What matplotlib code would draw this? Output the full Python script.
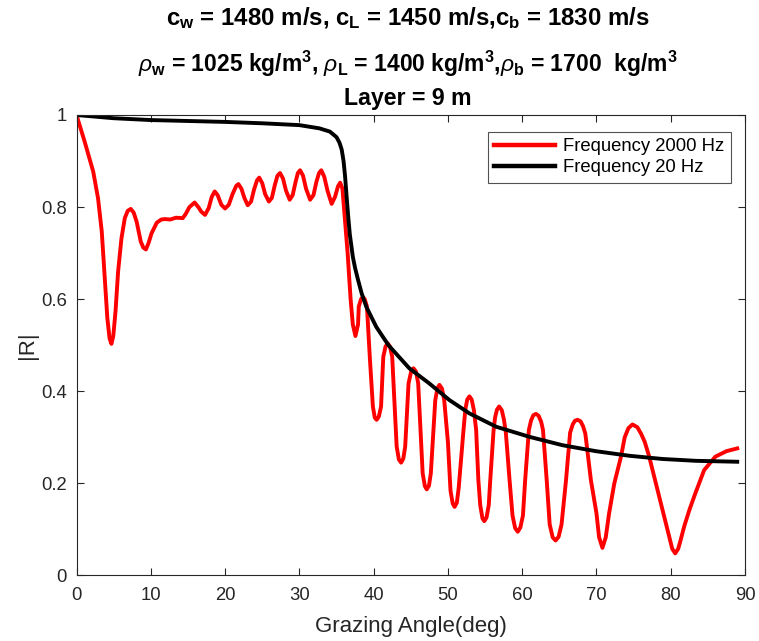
import numpy as np
import matplotlib
matplotlib.use("Agg")
import matplotlib.pyplot as plt

# values
# 2000 Hz curve: grazing angle (deg), |R|
angle_2000 = [0.0, 1.1, 2.25, 2.9, 3.4, 3.75, 4.15, 4.45, 4.7, 4.95, 5.25, 5.6, 6.05, 6.5, 6.9, 7.3,
              7.7, 8.1, 8.65, 9.0, 9.35, 9.7, 10.1, 10.8, 11.4, 11.9, 12.6, 13.4, 14.3, 14.7, 15.2,
              15.9, 16.4, 16.8, 17.3, 17.8, 18.2, 18.6, 19.0, 19.5, 20.0, 20.5, 21.0, 21.5, 21.8,
              22.2, 22.6, 23.05, 23.5, 23.9, 24.3, 24.6, 25.0, 25.4, 25.9, 26.3, 26.7, 27.05, 27.4,
              27.8, 28.2, 28.7, 29.1, 29.5, 29.8, 30.1, 30.5, 30.9, 31.45, 31.9, 32.3, 32.65, 32.95,
              33.35, 33.8, 34.35, 34.8, 35.2, 35.5, 35.8, 36.2, 36.5, 36.9, 37.2, 37.55, 37.9,
              38.0, 38.3, 38.55, 38.8, 39.1, 39.5, 39.9, 40.15, 40.4, 40.7, 41.0,
              41.3, 41.6, 41.9, 42.2, 42.5, 42.85, 43.1, 43.4, 43.7, 44.0, 44.25,
              44.7, 45.05, 45.36, 45.7, 46.0, 46.6, 46.9, 47.15, 47.45, 47.7,
              48.3, 48.6, 48.86, 49.2, 49.5, 50.0, 50.35, 50.65, 50.9, 51.2, 51.45,
              52.1, 52.35, 52.6, 52.9, 53.2, 53.5, 53.8, 54.1, 54.35, 54.65, 54.9, 55.2, 55.5, 55.7,
              56.15, 56.35, 56.6, 56.9, 57.25, 57.55, 57.8, 58.3, 58.7, 59.05, 59.4, 59.75, 60.1,
              60.4, 60.9, 61.2, 61.5, 61.85, 62.2, 62.55, 62.8, 63.3, 63.7, 64.1, 64.5, 64.9, 65.3,
              65.9, 66.45, 66.8, 67.1, 67.45, 67.85, 68.2, 68.5, 69.25, 70.0, 70.35, 70.8, 71.25,
              71.7, 72.4, 73.3, 73.8, 74.3, 74.85, 75.5, 76.0, 76.5, 77.1, 78.0, 78.9, 79.8, 80.2,
              80.6, 81.0, 81.3, 81.8, 82.5, 83.3, 84.5, 86.0, 87.5, 88.95]
R_2000 = [1.000, 0.942, 0.877, 0.819, 0.747, 0.660, 0.559, 0.515, 0.503, 0.520, 0.573, 0.660, 0.732,
          0.776, 0.792, 0.796, 0.788, 0.768, 0.725, 0.712, 0.708, 0.722, 0.743, 0.766, 0.773, 0.774,
          0.773, 0.777, 0.776, 0.785, 0.800, 0.810, 0.800, 0.790, 0.783, 0.798, 0.822, 0.834, 0.826,
          0.805, 0.797, 0.805, 0.828, 0.846, 0.850, 0.840, 0.820, 0.804, 0.812, 0.838, 0.858, 0.864,
          0.852, 0.828, 0.812, 0.820, 0.848, 0.868, 0.874, 0.862, 0.836, 0.816, 0.826, 0.855, 0.874,
          0.880, 0.868, 0.840, 0.816, 0.826, 0.855, 0.874, 0.880, 0.866, 0.835, 0.807, 0.822, 0.845,
          0.853, 0.840, 0.761, 0.700, 0.600, 0.545, 0.520, 0.545,
          0.584, 0.600, 0.605, 0.600, 0.584, 0.470, 0.367, 0.343, 0.338, 0.345, 0.367,
          0.475, 0.497, 0.504, 0.497, 0.475, 0.360, 0.280, 0.252, 0.245, 0.254, 0.280,
          0.417, 0.443, 0.450, 0.443, 0.417, 0.222, 0.194, 0.187, 0.195, 0.222,
          0.381, 0.407, 0.414, 0.406, 0.381, 0.290, 0.184, 0.156, 0.149, 0.158, 0.190,
          0.316, 0.361, 0.382, 0.389, 0.382, 0.359, 0.316, 0.207, 0.153, 0.124, 0.118, 0.126, 0.153,
          0.207, 0.316, 0.343, 0.360, 0.367, 0.359, 0.338, 0.310, 0.207, 0.130, 0.103, 0.095, 0.104,
          0.130, 0.207, 0.316, 0.337, 0.348, 0.351, 0.347, 0.334, 0.316, 0.207, 0.111, 0.083, 0.076,
          0.084, 0.111, 0.207, 0.310, 0.328, 0.336, 0.338, 0.335, 0.324, 0.308, 0.207, 0.135, 0.083,
          0.060, 0.083, 0.135, 0.200, 0.258, 0.300, 0.320, 0.328, 0.322, 0.308, 0.290, 0.258, 0.200,
          0.142, 0.084, 0.058, 0.048, 0.058, 0.075, 0.106, 0.142, 0.178, 0.229, 0.258, 0.270, 0.276]

# 20 Hz curve
angle_20 = [0.0, 5.0, 10.0, 15.0, 20.0, 25.0, 30.0, 32.7, 34.1, 35.0, 35.4, 35.7, 35.95, 36.15,
            36.4, 36.6, 36.8, 37.2, 37.5, 37.9, 38.4, 39.0, 40.35, 42.0, 44.8, 47.5, 50.2, 52.9,
            56.5, 61.0, 65.4, 69.9, 74.4, 78.9, 83.4, 88.95]
R_20 = [1.000, 0.993, 0.989, 0.987, 0.985, 0.982, 0.978, 0.971, 0.964, 0.952, 0.940, 0.925, 0.900,
        0.868, 0.815, 0.775, 0.740, 0.692, 0.668, 0.642, 0.612, 0.584, 0.540, 0.500, 0.450, 0.417,
        0.381, 0.352, 0.323, 0.301, 0.283, 0.270, 0.260, 0.253, 0.249, 0.247]

labels = ["Frequency 2000 Hz", "Frequency 20 Hz"]
x_ticks = [0, 10, 20, 30, 40, 50, 60, 70, 80, 90]
y_ticks = [0, 0.2, 0.4, 0.6, 0.8, 1]
y_tick_labels = ["0", "0.2", "0.4", "0.6", "0.8", "1"]

plt.rcParams['font.family'] = ['Liberation Sans', 'DejaVu Sans']
plt.rcParams['mathtext.fontset'] = 'custom'
plt.rcParams['mathtext.rm'] = 'Liberation Sans'
plt.rcParams['mathtext.bf'] = 'Liberation Sans:bold'
plt.rcParams['mathtext.it'] = 'Liberation Sans:italic'

axis_col = '#262626'

fig = plt.figure(figsize=(7.59, 6.41), dpi=100)
ax = fig.add_axes([0.1008, 0.1022, 0.8808, 0.7184])

ax.plot(angle_2000, R_2000, color='red', linewidth=2.8, label=labels[0],
        solid_joinstyle='round')
ax.plot(angle_20, R_20, color='black', linewidth=2.8, label=labels[1],
        solid_joinstyle='round')

ax.set_xlim(0, 90)
ax.set_ylim(0, 1)
ax.set_xticks(x_ticks)
ax.set_yticks(y_ticks)
ax.set_yticklabels(y_tick_labels)
ax.tick_params(direction='in', top=True, right=True, length=5, width=0.8,
               colors=axis_col, labelsize=13.3)
ax.tick_params(axis='x', pad=8)
ax.tick_params(axis='y', pad=7)
for s in ax.spines.values():
    s.set_color(axis_col)
    s.set_linewidth(0.8)

ax.set_xlabel("Grazing Angle(deg)", fontsize=16, color=axis_col, labelpad=9)
ax.set_ylabel("|R|", fontsize=16, color=axis_col, labelpad=2)

leg = ax.legend(loc='upper right', bbox_to_anchor=(0.979, 0.963), borderaxespad=0,
                fontsize=13.3, frameon=True, fancybox=False, handlelength=3.3,
                handletextpad=0.45, borderpad=0.35, labelspacing=0.2)
leg.get_frame().set_edgecolor(axis_col)
leg.get_frame().set_linewidth(0.8)
for line in leg.get_lines():
    line.set_linewidth(3.2)

# three-line title
cx = 0.1008 + 0.8808 / 2
fig.text(cx - 0.004, 0.972, r'c$_\mathbf{w}$ = 1480 m/s, c$_\mathbf{L}$ = 1450 m/s,c$_\mathbf{b}$ = 1830 m/s',
         ha='center', va='center', fontsize=17.3, fontweight='bold', color='black')
fig.text(cx - 0.004, 0.901, r'$\rho_\mathbf{w}$ = 1025 kg/m$^\mathbf{3}$, $\rho_\mathbf{L}$ = 1400 kg/m$^\mathbf{3}$,$\rho_\mathbf{b}$ = 1700  kg/m$^\mathbf{3}$',
         ha='center', va='center', fontsize=16.5, fontweight='bold', color='black')
fig.text(cx - 0.004, 0.846, 'Layer = 9 m', ha='center', va='center', fontsize=16.7,
         fontweight='bold', color='black')

plt.savefig("out.png", dpi=100)
plt.close()
